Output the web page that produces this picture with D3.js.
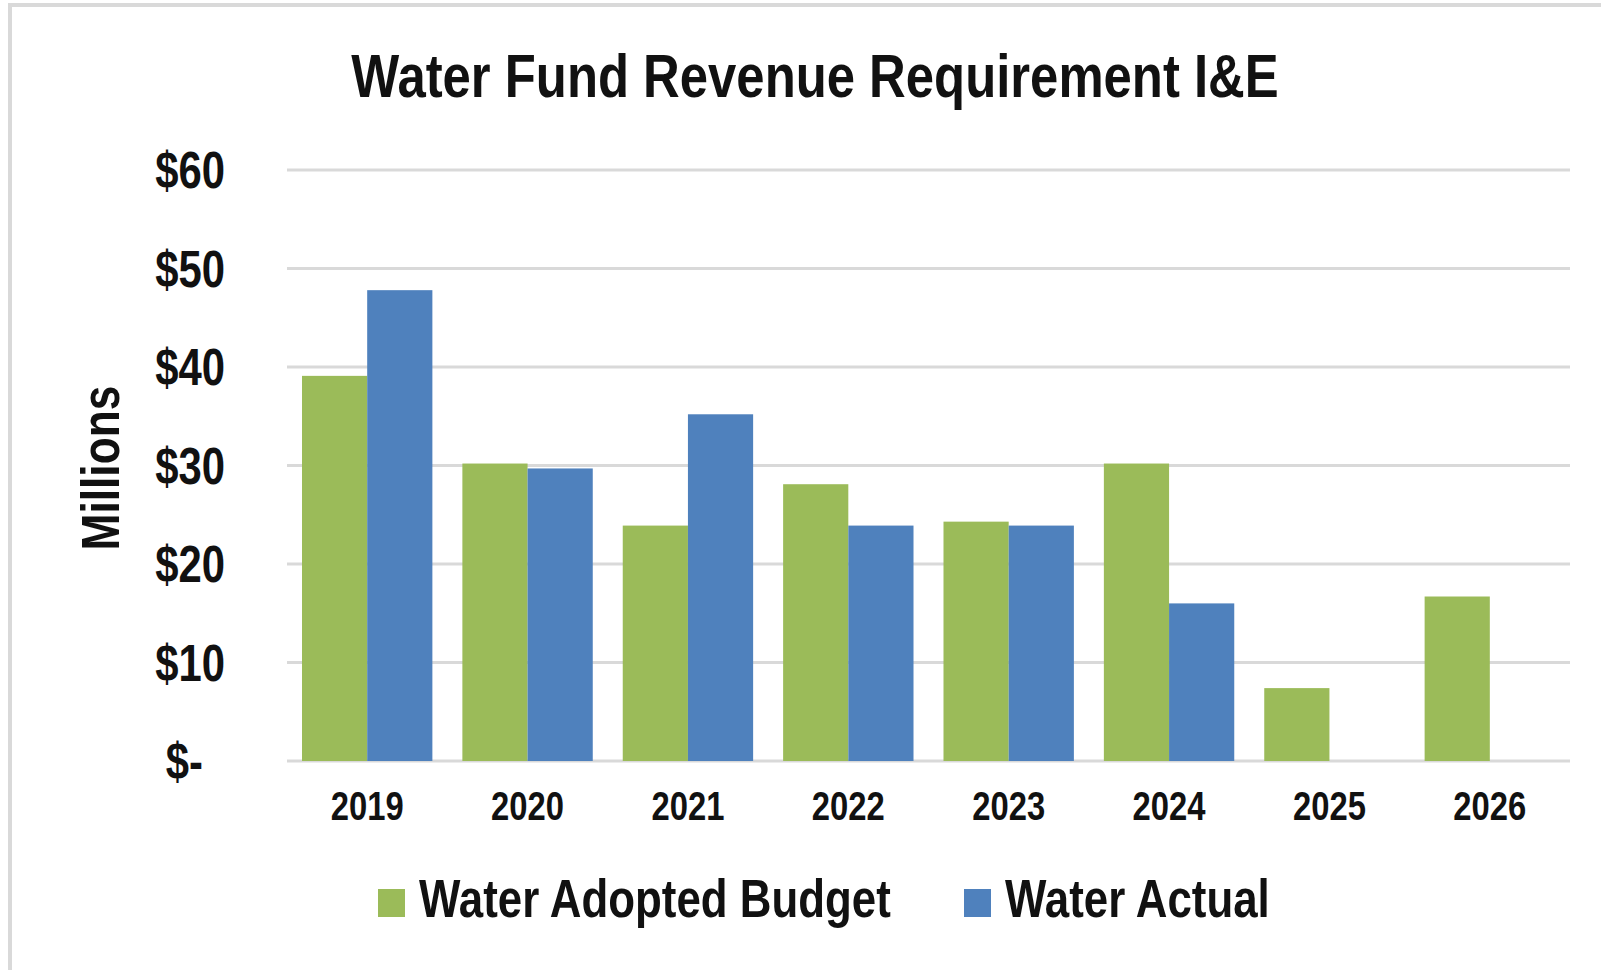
<!DOCTYPE html>
<html>
<head>
<meta charset="utf-8">
<script src="https://cdn.jsdelivr.net/npm/d3@7"></script>
<style>
  body{margin:0;background:#fff;}
  svg{display:block;}
  text{font-family:"Liberation Sans Narrow","Arial Narrow","Liberation Sans",Arial,sans-serif;font-weight:bold;fill:#111;}
</style>
</head>
<body>
<svg id="chart" width="1601" height="970"></svg>
<script>
// data -----------------------------
var years=['2019','2020','2021','2022','2023','2024','2025','2026'];
var adopted=[39.1,30.2,23.9,28.1,24.3,30.2,7.4,16.7];
var actual=[47.8,29.7,35.2,23.9,23.9,16.0,null,null];
var seriesNames=['Water Adopted Budget','Water Actual'];
var seriesColors=['#9bbb59','#4f81bd'];
var yTicks=[0,10,20,30,40,50,60];

// narrow font isn't installed, so squeeze regular sans to arial-narrow proportions
var narrow=0.82;
function place(x,y,rot){
  return `translate(${x},${y})`+(rot?` rotate(${rot})`:'')+` scale(${narrow},1)`;
}

// layout ---------------------------
var svg=d3.select('#chart');
var plot={left:287,right:1570,top:170,bottom:761};

// frame (top + left edge only)
svg.append('path')
  .attr('d','M10,1600 L10,5 L1601,5')
  .attr('fill','none')
  .attr('stroke','#d9d9d9')
  .attr('stroke-width',4);

var x=d3.scaleBand().domain(years).range([plot.left,plot.right]).paddingInner(0.187).paddingOuter(0.0935);
var xInner=d3.scaleBand().domain([0,1]).range([0,x.bandwidth()]);
var y=d3.scaleLinear().domain([0,60]).range([plot.bottom,plot.top]);

// gridlines
svg.append('g').selectAll('line')
  .data(yTicks)
  .join('line')
  .attr('x1',plot.left)
  .attr('x2',plot.right)
  .attr('y1',d=>y(d))
  .attr('y2',d=>y(d))
  .attr('stroke','#d9d9d9')
  .attr('stroke-width',3);

// y labels (accounting format: zero shows as "$-" with trailing pad)
svg.append('g').selectAll('text')
  .data(yTicks)
  .join('text')
  .attr('transform',d=>place(d==0?203:225,y(d)))
  .attr('dy','0.36em')
  .attr('text-anchor','end')
  .style('font-size','51px')
  .text(d=>d==0?'$-':'$'+d);

// bars
var rows=[];
years.forEach((yr,i)=>{
  [adopted[i],actual[i]].forEach((v,s)=>{
    if(v!=null) rows.push({year:yr,s:s,v:v});
  });
});
svg.append('g').selectAll('rect')
  .data(rows)
  .join('rect')
  .attr('x',d=>x(d.year)+xInner(d.s))
  .attr('width',xInner.bandwidth())
  .attr('y',d=>y(d.v))
  .attr('height',d=>y(0)-y(d.v))
  .attr('fill',d=>seriesColors[d.s]);

// x labels
svg.append('g').selectAll('text')
  .data(years)
  .join('text')
  .attr('transform',d=>place(x(d)+x.bandwidth()/2,820))
  .attr('text-anchor','middle')
  .style('font-size','40px')
  .text(d=>d);

// title
svg.append('text')
  .attr('transform',place(815,97))
  .attr('text-anchor','middle')
  .style('font-size','62px')
  .text('Water Fund Revenue Requirement I&E');

// axis title
svg.append('text')
  .attr('transform','translate(119,468) rotate(-90)')
  .attr('text-anchor','middle')
  .style('font-size','53px')
  .attr('textLength',165)
  .attr('lengthAdjust','spacingAndGlyphs')
  .text('Millions');

// legend
var legendX=[378,964];
var leg=svg.append('g').selectAll('g')
  .data(seriesNames)
  .join('g')
  .attr('transform',(d,i)=>`translate(${legendX[i]},0)`);
leg.append('rect')
  .attr('x',0).attr('y',889)
  .attr('width',27).attr('height',28)
  .attr('fill',(d,i)=>seriesColors[i]);
leg.append('text')
  .attr('transform',place(41,917))
  .style('font-size','53.5px')
  .text(d=>d);
</script>
</body>
</html>
